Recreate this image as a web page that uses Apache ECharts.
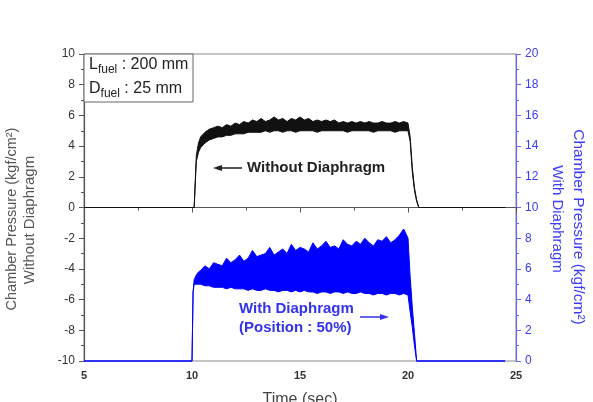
<!DOCTYPE html>
<html>
<head>
<meta charset="utf-8">
<title>Chamber Pressure</title>
<script src="https://cdn.jsdelivr.net/npm/echarts@6/dist/echarts.min.js"></script>
<style>
  html, body { margin: 0; padding: 0; background: #fff; }
  #chart { width: 593px; height: 402px; }
</style>
</head>
<body>
<div id="chart"></div>
<script>
// time (sec), shared by all envelopes
const time = [5, 10.0, 10.05, 10.1, 10.2, 10.3,
  10.4, 10.6, 10.8, 11.0, 11.2, 11.4, 11.6, 11.8, 12.0, 12.2,
  12.4, 12.6, 12.8, 13.0, 13.2, 13.4, 13.6, 13.8, 14.0, 14.2,
  14.4, 14.6, 14.8, 15.0, 15.2, 15.4, 15.6, 15.8, 16.0, 16.2,
  16.4, 16.6, 16.8, 17.0, 17.2, 17.4, 17.6, 17.8, 18.0, 18.2,
  18.4, 18.6, 18.8, 19.0, 19.2, 19.4, 19.6, 19.8, 20.0,
  20.1, 20.2, 20.3, 20.4, 20.5, 24.5];

// without diaphragm (left axis) - upper / lower edge of the noisy trace
const blackHi = [0, 0, 0, 0, 3.4, 4.2,
  4.6, 4.9, 5.1, 5.2, 5.3, 5.2, 5.4, 5.3, 5.5, 5.4,
  5.6, 5.5, 5.7, 5.6, 5.8, 5.6, 5.7, 5.9, 5.7, 5.8,
  5.6, 5.8, 5.7, 5.9, 5.7, 5.8, 5.6, 5.7, 5.6, 5.7,
  5.6, 5.7, 5.5, 5.6, 5.5, 5.6, 5.5, 5.6, 5.5, 5.6,
  5.5, 5.5, 5.6, 5.5, 5.5, 5.6, 5.5, 5.6, 5.5,
  4.6, 2.6, 1.3, 0.5, 0, 0];
const blackLo = [0, 0, 0, 0, 3.0, 3.6,
  3.9, 4.2, 4.4, 4.5, 4.6, 4.6, 4.7, 4.7, 4.8, 4.8,
  4.8, 4.9, 4.9, 4.9, 4.9, 5.0, 4.9, 5.0, 5.0, 4.9,
  5.0, 5.0, 4.9, 5.0, 5.0, 5.0, 5.0, 4.9, 5.0, 5.0,
  5.0, 5.0, 5.0, 5.0, 4.9, 5.0, 5.0, 5.0, 5.0, 5.0,
  4.9, 5.0, 5.0, 5.0, 5.0, 4.9, 5.0, 5.0, 5.0,
  4.3, 2.3, 1.1, 0.4, 0, 0];

// with diaphragm (right axis)
const blueHi = [0, 0, 4.5, 5.3, 5.6, 5.8,
  5.9, 6.2, 6.0, 6.4, 6.3, 6.2, 6.7, 6.4, 6.6, 6.9,
  6.5, 6.7, 7.2, 6.8, 6.9, 7.0, 7.4, 6.9, 7.1, 7.3,
  7.0, 7.6, 7.2, 7.4, 7.3, 7.1, 7.7, 7.3, 7.5, 7.8,
  7.4, 7.5, 7.3, 7.9, 7.6, 7.5, 7.8, 7.6, 8.0, 7.7,
  7.5, 7.9, 7.8, 8.1, 7.7, 7.9, 8.2, 8.6, 8.0,
  5.5, 3.5, 1.8, 0, 0, 0];
const blueLo = [0, 0, 4.5, 5.0, 5.0, 5.0,
  5.0, 4.9, 4.9, 4.8, 4.8, 4.8, 4.7, 4.8, 4.7, 4.7,
  4.7, 4.6, 4.7, 4.6, 4.6, 4.7, 4.6, 4.6, 4.5, 4.6,
  4.6, 4.5, 4.6, 4.5, 4.6, 4.5, 4.5, 4.4, 4.5, 4.5,
  4.4, 4.5, 4.5, 4.4, 4.5, 4.4, 4.4, 4.5, 4.4, 4.4,
  4.3, 4.4, 4.4, 4.3, 4.4, 4.4, 4.3, 4.4, 4.3,
  3.2, 2.2, 1.0, 0, 0, 0];

const FONT = "'Liberation Sans', Arial, sans-serif";
const BLACK = '#111111';
const BLUE = '#0000ff';
const BLUE_TEXT = '#3333ee';

const chart = echarts.init(document.getElementById('chart'));

// one closed outline per trace: along the upper edge, back along the lower edge
function bandRenderer(hi, lo, color) {
  return function (params, api) {
    const pts = [];
    for (let i = 0; i < time.length; i++) pts.push(api.coord([time[i], hi[i]]));
    for (let i = time.length - 1; i >= 0; i--) pts.push(api.coord([time[i], lo[i]]));
    return {
      type: 'polygon',
      shape: { points: pts },
      style: { fill: color, stroke: color, lineWidth: 1, lineJoin: 'round' }
    };
  };
}

function band(hi, lo, color, yIdx) {
  return {
    type: 'custom',
    yAxisIndex: yIdx,
    data: [[time[0], lo[0]]],
    encode: { x: 0, y: 1 },
    renderItem: bandRenderer(hi, lo, color),
    silent: true,
    z: 4
  };
}

const axisGrey = '#555';
const axisBlue = '#6a6aff';

const option = {
  animation: false,
  grid: { left: 84, right: 77, top: 54, bottom: 41, show: true, borderColor: '#8a8a8a', borderWidth: 1 },
  xAxis: {
    type: 'value',
    min: 5, max: 25, interval: 5,
    axisLine: { lineStyle: { color: axisGrey, width: 1.2 } },
    axisTick: { length: 5, lineStyle: { color: axisGrey } },
    minorTick: { show: true, splitNumber: 2, length: 3, lineStyle: { color: axisGrey } },
    splitLine: { show: false },
    axisLabel: { color: '#333', fontSize: 11, fontWeight: 'bold', fontFamily: FONT, margin: 9 }
  },
  yAxis: [
    {
      type: 'value',
      min: -10, max: 10, interval: 2,
      axisLine: { show: true, lineStyle: { color: axisGrey, width: 1.2 } },
      axisTick: { length: 5, lineStyle: { color: axisGrey } },
      minorTick: { show: true, splitNumber: 2, length: 3, lineStyle: { color: axisGrey } },
      splitLine: { show: false },
      axisLabel: { color: '#333', fontSize: 12, fontFamily: FONT, margin: 9 }
    },
    {
      type: 'value',
      position: 'right',
      min: 0, max: 20, interval: 2,
      axisLine: { show: true, lineStyle: { color: axisBlue, width: 1.2 } },
      axisTick: { length: 5, lineStyle: { color: axisBlue } },
      minorTick: { show: true, splitNumber: 2, length: 3, lineStyle: { color: axisBlue } },
      splitLine: { show: false },
      axisLabel: { color: '#3b3bff', fontSize: 12, fontFamily: FONT, margin: 9 }
    }
  ],
  series: [
    band(blueHi, blueLo, BLUE, 1),
    band(blackHi, blackLo, BLACK, 0)
  ],
  graphic: [
    // parameter box
    { type: 'rect', shape: { x: 84, y: 54, width: 109, height: 48 },
      style: { fill: '#fff', stroke: '#666', lineWidth: 1 }, z: 10 },
    { type: 'text', x: 89, y: 54, z: 11,
      style: { text: 'L{s|fuel} : 200 mm', fill: '#222', font: '16px ' + FONT,
        rich: { s: { fontSize: 12, fontFamily: FONT, fill: '#222', padding: [10, 0, 0, 0] } } } },
    { type: 'text', x: 89, y: 78, z: 11,
      style: { text: 'D{s|fuel} : 25 mm', fill: '#222', font: '16px ' + FONT,
        rich: { s: { fontSize: 12, fontFamily: FONT, fill: '#222', padding: [10, 0, 0, 0] } } } },
    // annotations
    { type: 'text', x: 247, y: 168, z: 11,
      style: { text: 'Without Diaphragm', fill: '#222', font: 'bold 15px ' + FONT, textVerticalAlign: 'middle' } },
    { type: 'polyline', z: 11, shape: { points: [[242, 168], [219, 168]] },
      style: { stroke: '#222', lineWidth: 1.5 } },
    { type: 'polygon', z: 11, shape: { points: [[213, 168], [222, 165], [222, 171]] },
      style: { fill: '#222' } },
    { type: 'text', x: 239, y: 309, z: 11,
      style: { text: 'With Diaphragm', fill: BLUE_TEXT, font: 'bold 15px ' + FONT, textVerticalAlign: 'middle' } },
    { type: 'text', x: 239, y: 328, z: 11,
      style: { text: '(Position : 50%)', fill: BLUE_TEXT, font: 'bold 15px ' + FONT, textVerticalAlign: 'middle' } },
    { type: 'polyline', z: 11, shape: { points: [[360, 317], [383, 317]] },
      style: { stroke: BLUE_TEXT, lineWidth: 1.5 } },
    { type: 'polygon', z: 11, shape: { points: [[389, 317], [380, 314], [380, 320]] },
      style: { fill: BLUE_TEXT } },
    // axis titles
    { type: 'text', x: 12, y: 219, rotation: Math.PI / 2, z: 11,
      style: { text: 'Chamber Pressure (kgf/cm²)', fill: '#555', font: '14.5px ' + FONT,
        textAlign: 'center', textVerticalAlign: 'middle' } },
    { type: 'text', x: 30, y: 220, rotation: Math.PI / 2, z: 11,
      style: { text: 'Without Diaphragm', fill: '#555', font: '15px ' + FONT,
        textAlign: 'center', textVerticalAlign: 'middle' } },
    { type: 'text', x: 578, y: 227, rotation: -Math.PI / 2, z: 11,
      style: { text: 'Chamber Pressure (kgf/cm²)', fill: '#3b3bff', font: '15.5px ' + FONT,
        textAlign: 'center', textVerticalAlign: 'middle' } },
    { type: 'text', x: 557, y: 219, rotation: -Math.PI / 2, z: 11,
      style: { text: 'With Diaphragm', fill: '#3b3bff', font: '15px ' + FONT,
        textAlign: 'center', textVerticalAlign: 'middle' } },
    { type: 'text', x: 300, y: 392, z: 11,
      style: { text: 'Time (sec)', fill: '#444', font: '16px ' + FONT,
        textAlign: 'center', textVerticalAlign: 'top' } }
  ]
};

chart.setOption(option);
</script>
</body>
</html>
